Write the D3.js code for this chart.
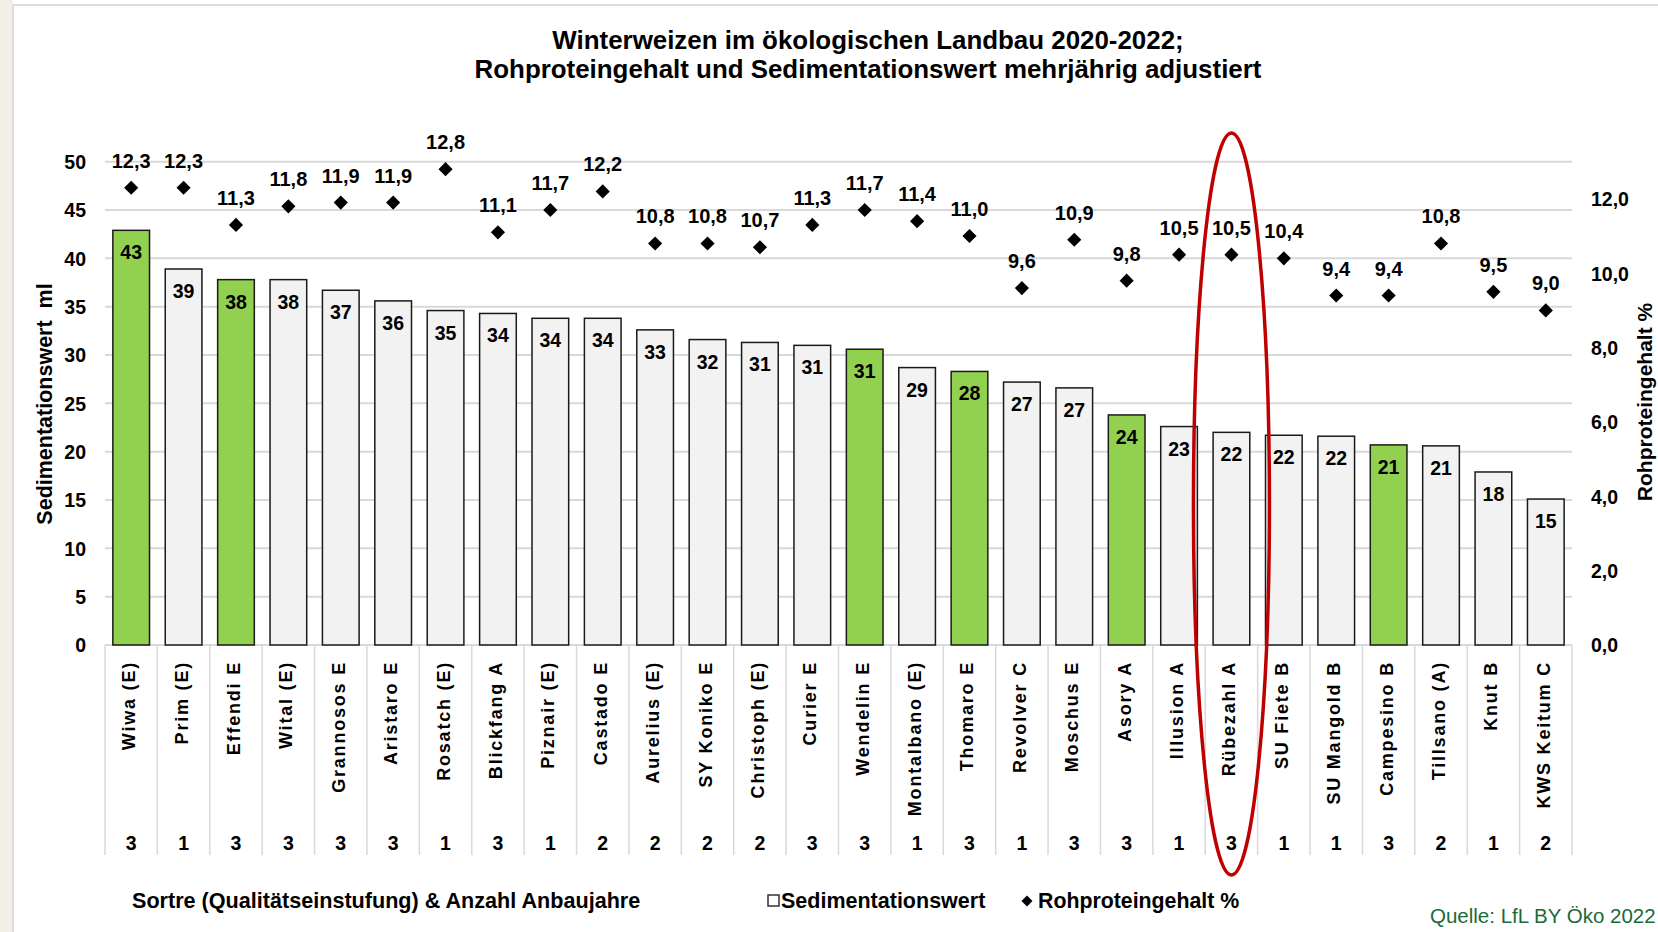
<!DOCTYPE html>
<html>
<head>
<meta charset="utf-8">
<script src="https://cdn.jsdelivr.net/npm/d3@7"></script>
<style>
  body { margin: 0; background: #fff; }
  text { font-family: "Liberation Sans", Arial, sans-serif; font-weight: bold; fill: #000; }
</style>
</head>
<body>
<div id="chart"></div>
<script>
// Sorten mit Qualitätseinstufung
const sorten = ["Wiwa (E)", "Prim (E)", "Effendi E", "Wital (E)", "Grannosos E", "Aristaro E", "Rosatch (E)",
  "Blickfang A", "Piznair (E)", "Castado E", "Aurelius (E)", "SY Koniko E", "Christoph (E)", "Curier E",
  "Wendelin E", "Montalbano (E)", "Thomaro E", "Revolver C", "Moschus E", "Asory A", "Illusion A",
  "Rübezahl A", "SU Fiete B", "SU Mangold B", "Campesino B", "Tillsano (A)", "Knut B", "KWS Keitum C"];

// Sedimentationswert ml (Balken)
const sedimentation = [42.9, 38.9, 37.8, 37.8, 36.7, 35.6, 34.6, 34.3, 33.8, 33.8, 32.6, 31.6, 31.3, 31.0,
  30.6, 28.7, 28.3, 27.2, 26.6, 23.8, 22.6, 22.0, 21.7, 21.6, 20.7, 20.6, 17.9, 15.1];

// Rohproteingehalt % (Rauten)
const rohprotein = [12.3, 12.3, 11.3, 11.8, 11.9, 11.9, 12.8, 11.1, 11.7, 12.2, 10.8, 10.8, 10.7, 11.3,
  11.7, 11.4, 11.0, 9.6, 10.9, 9.8, 10.5, 10.5, 10.4, 9.4, 9.4, 10.8, 9.5, 9.0];

// Anzahl Anbaujahre
const anbaujahre = [3, 1, 3, 3, 3, 3, 1, 3, 1, 2, 2, 2, 2, 3, 3, 1, 3, 1, 3, 3, 1, 3, 1, 1, 3, 2, 1, 2];

// grün hervorgehobene Sorten
const gruen = ["Wiwa (E)", "Effendi E", "Wendelin E", "Thomaro E", "Asory A", "Campesino B"];

const sedTicks = [0, 5, 10, 15, 20, 25, 30, 35, 40, 45, 50];
const proteinTicks = [0, 2, 4, 6, 8, 10, 12];
const markiert = "Rübezahl A";

const W = 1658, H = 932;
const plotLeft = 105, plotRight = 1572, plotTop = 161.7, plotBottom = 645;

const de = d3.formatLocale({decimal: ",", thousands: ".", grouping: [3], currency: ["", " €"]});
const f1 = de.format(".1f");

const data = sorten.map((s, i) => ({sorte: s, sed: sedimentation[i], rp: rohprotein[i], jahre: anbaujahre[i]}));

const svg = d3.select("#chart").append("svg")
  .attr("width", W).attr("height", H);

// Rahmen
svg.append("rect").attr("x", 0).attr("y", 0).attr("width", 13).attr("height", H).attr("fill", "#f2efe8");
svg.append("rect").attr("x", 13).attr("y", 5).attr("width", W).attr("height", H)
  .attr("fill", "#fff").attr("stroke", "#dcdcdc").attr("stroke-width", 2);

const x = d3.scaleBand().domain(sorten).range([plotLeft, plotRight]).paddingInner(0.3).paddingOuter(0.15);
const y = d3.scaleLinear().domain([0, 50]).range([plotBottom, plotTop]);
const y2 = d3.scaleLinear().domain([0, 13]).range([plotBottom, plotTop]);

// Gitterlinien
svg.append("g").selectAll("line").data(sedTicks).join("line")
  .attr("x1", plotLeft).attr("x2", plotRight)
  .attr("y1", d => y(d)).attr("y2", d => y(d))
  .attr("stroke", "#d9d9d9").attr("stroke-width", 2);

// linke Achse
const yAxis = svg.append("g").attr("transform", "translate(86,0)")
  .call(d3.axisLeft(y).tickValues(sedTicks).tickSize(0).tickPadding(0));
yAxis.select(".domain").remove();
yAxis.selectAll("text").attr("font-size", 19.5).attr("font-family", null).attr("dy", "0.35em");

// rechte Achse
const y2Axis = svg.append("g").attr("transform", "translate(1591,0)")
  .call(d3.axisRight(y2).tickValues(proteinTicks).tickFormat(f1).tickSize(0).tickPadding(0));
y2Axis.select(".domain").remove();
y2Axis.selectAll("text").attr("font-size", 19.5).attr("font-family", null).attr("dy", "0.35em");

// Achsentitel
svg.append("text").attr("transform", "translate(52,404) rotate(-90)")
  .attr("text-anchor", "middle").attr("font-size", 21.5).attr("xml:space", "preserve")
  .text("Sedimentationswert  ml");
svg.append("text").attr("transform", "translate(1652,402) rotate(-90)")
  .attr("text-anchor", "middle").attr("font-size", 21)
  .text("Rohproteingehalt %");

// Trennlinien der Kategorien
const grenzen = sorten.map(s => x(s) - x.step() * x.paddingInner() / 2).concat([plotRight]);
svg.append("g").selectAll("line").data(grenzen).join("line")
  .attr("x1", d => d).attr("x2", d => d)
  .attr("y1", plotBottom).attr("y2", 855)
  .attr("stroke", "#d9d9d9").attr("stroke-width", 1.5);

// Balken
svg.append("g").selectAll("rect").data(data).join("rect")
  .attr("x", d => x(d.sorte)).attr("width", x.bandwidth())
  .attr("y", d => y(d.sed)).attr("height", d => y(0) - y(d.sed))
  .attr("fill", d => gruen.includes(d.sorte) ? "#92d050" : "#f2f2f2")
  .attr("stroke", "#1a1a1a").attr("stroke-width", 1.5);

// Balkenwerte
svg.append("g").selectAll("text").data(data).join("text")
  .attr("x", d => x(d.sorte) + x.bandwidth() / 2)
  .attr("y", d => y(d.sed) + 29)
  .attr("text-anchor", "middle").attr("font-size", 19.5)
  .text(d => Math.round(d.sed));

// Rauten Rohprotein
const raute = d3.symbol().type(d3.symbolSquare).size(100);
svg.append("g").selectAll("path").data(data).join("path")
  .attr("d", raute)
  .attr("transform", d => `translate(${x(d.sorte) + x.bandwidth() / 2},${y2(d.rp)}) rotate(45)`)
  .attr("fill", "#000");

svg.append("g").selectAll("text").data(data).join("text")
  .attr("x", d => x(d.sorte) + x.bandwidth() / 2)
  .attr("y", d => y2(d.rp) - 20)
  .attr("text-anchor", "middle").attr("font-size", 20)
  .text(d => f1(d.rp));

// Sortennamen
svg.append("g").selectAll("text").data(data).join("text")
  .attr("transform", d => `translate(${x(d.sorte) + x.bandwidth() / 2 + 4},661) rotate(-90)`)
  .attr("text-anchor", "end").attr("font-size", 18).attr("letter-spacing", 1.8)
  .text(d => d.sorte);

// Anbaujahre
svg.append("g").selectAll("text").data(data).join("text")
  .attr("x", d => x(d.sorte) + x.bandwidth() / 2)
  .attr("y", 850)
  .attr("text-anchor", "middle").attr("font-size", 19.5)
  .text(d => d.jahre);

// Titel
svg.append("text").attr("x", 868).attr("y", 49).attr("text-anchor", "middle").attr("font-size", 25.9)
  .text("Winterweizen im ökologischen Landbau 2020-2022;");
svg.append("text").attr("x", 868).attr("y", 78).attr("text-anchor", "middle").attr("font-size", 25.9)
  .text("Rohproteingehalt und Sedimentationswert mehrjährig adjustiert");

// Beschriftung unten
svg.append("text").attr("x", 132).attr("y", 908).attr("font-size", 21.6)
  .text("Sortre (Qualitätseinstufung) & Anzahl Anbaujahre");

// Legende
svg.append("rect").attr("x", 768).attr("y", 895).attr("width", 11).attr("height", 11)
  .attr("fill", "#fff").attr("stroke", "#333").attr("stroke-width", 1.5);
svg.append("text").attr("x", 781).attr("y", 908).attr("font-size", 21.5).text("Sedimentationswert");
svg.append("path").attr("d", d3.symbol().type(d3.symbolSquare).size(60))
  .attr("transform", "translate(1027,901) rotate(45)").attr("fill", "#000");
svg.append("text").attr("x", 1038).attr("y", 908).attr("font-size", 21.3).text("Rohproteingehalt %");

// Quelle
svg.append("text").attr("x", 1430).attr("y", 923).attr("font-size", 20.5)
  .style("font-weight", "normal").style("fill", "#1b6a3a")
  .text("Quelle: LfL BY Öko 2022");

// rote Markierung
svg.append("ellipse")
  .attr("cx", x(markiert) + x.bandwidth() / 2).attr("cy", 504)
  .attr("rx", 38).attr("ry", 371)
  .attr("fill", "none").attr("stroke", "#c00000").attr("stroke-width", 3.5);
</script>
</body>
</html>
